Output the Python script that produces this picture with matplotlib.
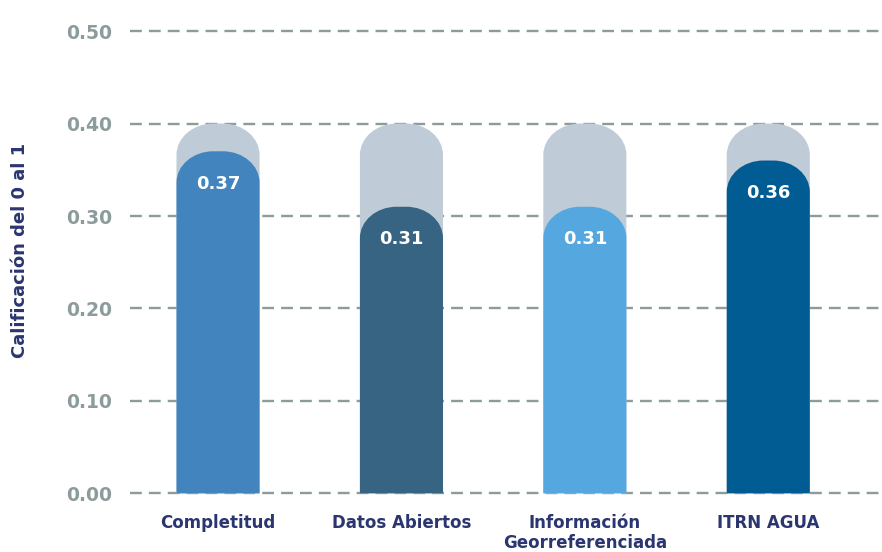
import matplotlib
matplotlib.use("Agg")
import matplotlib.pyplot as plt
from matplotlib.path import Path
from matplotlib.patches import PathPatch

categories = ["Completitud", "Datos Abiertos", "Información\nGeorreferenciada", "ITRN AGUA"]
scores = [0.37, 0.31, 0.31, 0.36]
max_score = [0.40, 0.40, 0.40, 0.40]
yticks = [0.0, 0.1, 0.2, 0.3, 0.4, 0.5]

bar_colors = ["#4285BE", "#366482", "#55A8DF", "#025C94"]
bg_color = "#BFCCD7"
grid_color = "#8C9B9B"
label_color = "#2B3570"
KAPPA = 0.5523


def rounded_bar(ax, x, h, width, rx, ry, color, z):
    l, r = x - width / 2, x + width / 2
    ry = min(ry, h)
    verts = [
        (l, 0), (l, h - ry),
        (l, h - ry + KAPPA * ry), (l + rx - KAPPA * rx, h), (l + rx, h),
        (r - rx, h),
        (r - rx + KAPPA * rx, h), (r, h - ry + KAPPA * ry), (r, h - ry),
        (r, 0), (l, 0),
    ]
    codes = [Path.MOVETO, Path.LINETO,
             Path.CURVE4, Path.CURVE4, Path.CURVE4,
             Path.LINETO,
             Path.CURVE4, Path.CURVE4, Path.CURVE4,
             Path.LINETO, Path.CLOSEPOLY]
    ax.add_patch(PathPatch(Path(verts, codes), facecolor=color, edgecolor="none", zorder=z))


fig = plt.figure(figsize=(8.82, 5.52), dpi=100)
ax = fig.add_axes([130 / 882, 42 / 552, 752 / 882, 490 / 552])
ax.set_xlim(-0.48, 3.62)
ax.set_ylim(-0.018, 0.512)

width = 0.453
rx = 0.20
ry = 0.034
for i, (s, m) in enumerate(zip(scores, max_score)):
    rounded_bar(ax, i, m, width, rx, ry, bg_color, 2)
    rounded_bar(ax, i, s, width, rx, ry, bar_colors[i], 3)
    ax.text(i, s - 0.035, f"{s:.2f}", ha="center", va="center", color="white",
            fontsize=13, fontweight="bold", zorder=4)

for t in yticks:
    ax.axhline(t, color=grid_color, linestyle=(0, (5, 3)), linewidth=1.7, zorder=1)

ax.set_yticks(yticks)
ax.set_yticklabels([f"{t:.2f}" for t in yticks], color=grid_color, fontsize=13.5, fontweight="semibold")
ax.set_xticks(range(len(categories)))
ax.set_xticklabels(categories, color=label_color, fontsize=12, fontweight="bold", linespacing=1.1)
ax.tick_params(axis="y", length=0, pad=13)
ax.tick_params(axis="x", length=0, pad=3)
for sp in ax.spines.values():
    sp.set_visible(False)

ax.set_ylabel("Calificación del 0 al 1", color=label_color, fontsize=13, fontweight="bold")
ax.yaxis.set_label_coords(-0.134, 0.53)

fig.savefig("out.png", dpi=100)
